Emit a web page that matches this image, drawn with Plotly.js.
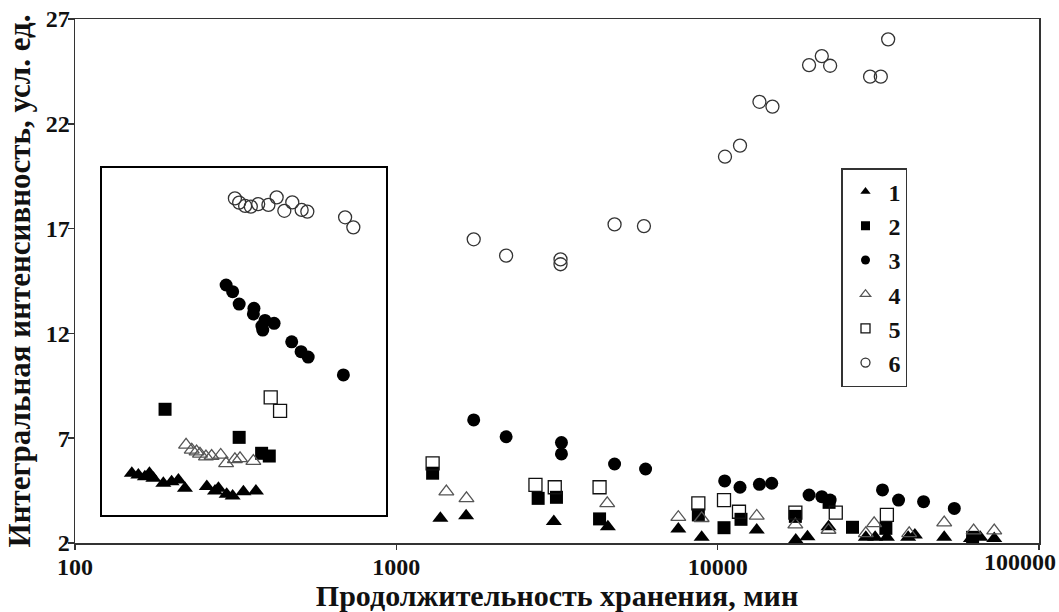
<!DOCTYPE html>
<html>
<head>
<meta charset="utf-8">
<script src="https://cdn.plot.ly/plotly-3.0.1.min.js"></script>
<style>html,body{margin:0;padding:0;background:#fff;}#chart{width:1059px;height:612px;}</style>
</head>
<body>
<div id="chart"></div>
<script>
// ---- main chart data (storage time, min; integral intensity, a.u.) ----
const s1x = [1371,1649,3091,4553,7543,8917,13230,17500,19030,22130,28910,30910,33620,39160,41090,50700,61400,65630,72560];
const s1y = [3.18,3.30,3.02,2.78,2.67,2.27,2.62,2.14,2.30,2.78,2.27,2.27,2.27,2.27,2.38,2.27,2.22,2.27,2.22];
const s2x = [1297,2763,3150,4290,8707,10464,11820,17450,22220,26280,33380,62140];
const s2y = [5.33,4.13,4.18,3.15,3.34,2.73,3.13,3.27,3.94,2.75,2.70,2.27];
const s3x = [1741,2196,3265,3265,4777,5966,10515,11736,13490,14730,19250,21090,22387,32580,36550,43730,54500];
const s3y = [7.87,7.07,6.79,6.25,5.77,5.53,4.96,4.66,4.80,4.85,4.29,4.21,4.05,4.53,4.05,3.97,3.65];
const s4x = [1431,1653,4532,7543,8917,13230,17450,22130,28910,30690,39450,50700,62600,72560];
const s4y = [4.45,4.13,3.89,3.23,3.18,3.29,2.88,2.62,2.46,2.94,2.46,2.97,2.59,2.59];
const s5x = [1297,2710,3112,4290,8707,10464,11650,17450,23310,33620];
const s5y = [5.80,4.77,4.66,4.66,3.89,4.05,3.49,3.45,3.45,3.34];
const s6x = [1741,2196,3243,3243,4777,5896,10539,11736,13490,14808,19250,21090,22387,29810,32190,33930];
const s6y = [16.49,15.71,15.53,15.30,17.20,17.12,20.43,20.96,23.05,22.82,24.80,25.23,24.77,24.25,24.25,26.03];

// ---- inset data (inset time units; intensity) ----
const i1x = [10.5,12.8,15.1,16.7,18.1,21.6,24.5,26.9,29.2,36.9,39.8,41.0,43.9,46.0,49.8,54.2];
const i1y = [5.33,5.24,5.16,5.33,5.09,4.85,4.92,5.01,4.61,4.69,4.48,4.61,4.32,4.24,4.45,4.48];
const i2x = [22.2,48.3,56.2,58.9];
const i2y = [8.38,7.04,6.28,6.15];
const i3x = [43.7,46.0,48.3,53.5,53.3,57.4,60.6,56.6,56.3,66.8,70.1,72.6,85.0];
const i3y = [14.31,13.99,13.40,13.20,12.93,12.62,12.48,12.16,12.35,11.60,11.13,10.87,10.02];
const i4x = [29.6,31.6,33.3,34.5,36.6,38.6,41.8,43.7,46.8,48.6,53.3];
const i4y = [6.68,6.44,6.36,6.25,6.12,6.15,6.20,5.80,5.99,6.04,5.91];
const i5x = [59.4,62.7];
const i5y = [8.95,8.30];
const i6x = [46.8,48.3,50.4,52.4,55.0,58.6,61.5,64.2,67.0,70.3,72.3,85.6,88.5];
const i6y = [18.44,18.24,18.08,18.05,18.17,18.13,18.49,17.85,18.25,17.89,17.81,17.54,17.06];

const seriesNames = ['1','2','3','4','5','6'];
const xTickVals = [100,1000,10000,100000];
const xTickText = ['100','1000','10000',''];
const xLastTickVal = [100000];
const xLastTickText = ['100000'];
const yTickVals = [2,7,12,17,22,27];

const styles = [
  {symbol:'triangle-up', color:'#000', size:14, line:{width:0}},
  {symbol:'square', color:'#000', size:13, line:{width:0}},
  {symbol:'circle', color:'#000', size:13, line:{width:0}},
  {symbol:'triangle-up-open', color:'#555', size:13, line:{width:1.3, color:'#555'}},
  {symbol:'square-open', color:'#111', size:13, line:{width:1.3, color:'#111'}},
  {symbol:'circle-open', color:'#333', size:13, line:{width:1.3, color:'#333'}}
];
const mainX = [s1x,s2x,s3x,s4x,s5x,s6x];
const mainY = [s1y,s2y,s3y,s4y,s5y,s6y];
const insX = [i1x,i2x,i3x,i4x,i5x,i6x];
const insY = [i1y,i2y,i3y,i4y,i5y,i6y];

const traces = [];
for (let k = 0; k < 6; k++) {
  traces.push({type:'scatter', mode:'markers', x:mainX[k], y:mainY[k], name:seriesNames[k],
    showlegend:false, cliponaxis:false, marker:styles[k], xaxis:'x', yaxis:'y', hoverinfo:'x+y'});
  traces.push({type:'scatter', mode:'markers', x:insX[k], y:insY[k], name:seriesNames[k],
    showlegend:false, cliponaxis:false, marker:styles[k], xaxis:'x2', yaxis:'y2', hoverinfo:'x+y'});
}
// legend entries (small symbols as in the original legend)
for (let k = 0; k < 6; k++) {
  const m = Object.assign({}, styles[k]);
  m.size = 9;
  traces.push({type:'scatter', mode:'markers', x:[null], y:[null], name:seriesNames[k],
    showlegend:true, marker:m, xaxis:'x3', yaxis:'y', hoverinfo:'skip'});
}

const serif = 'Liberation Serif, Times New Roman, serif';
const L = 75, R = 20, T = 19, B = 69, W = 1059, H = 612;
const pw = W - L - R, ph = H - T - B;
const inset = {left:102, right:386, top:168, bottom:515};
const eps = 1e-6;
const tickFont = {family:serif, size:24, weight:'bold', color:'#111'};

const layout = {
  width:W, height:H,
  margin:{l:L, r:R, t:T, b:B, pad:0},
  paper_bgcolor:'#fff', plot_bgcolor:'#fff',
  font:{family:serif, color:'#111'},
  showlegend:true,
  legend:{x:(841-L)/pw, y:(H-B-168)/ph, xanchor:'left', yanchor:'top',
    bgcolor:'#fff', bordercolor:'#333', borderwidth:1.5,
    font:{family:serif, size:24, weight:'bold', color:'#111'}, tracegroupgap:0, itemwidth:36},
  xaxis:{type:'log', range:[2-eps,5+eps], tickvals:xTickVals, ticktext:xTickText,
    showgrid:false, zeroline:false, showline:true, mirror:true, linecolor:'#333', linewidth:1.5,
    ticks:'outside', ticklen:5, tickwidth:1.5, tickcolor:'#333', ticklabelstandoff:-3,
    tickfont:tickFont,
    title:{text:'Продолжительность хранения, мин', standoff:11,
      font:{family:serif, size:30, weight:'bold', color:'#111'}}},
  xaxis3:{type:'log', range:[2-eps,5+eps], overlaying:'x', anchor:'y', side:'bottom',
    tickvals:xLastTickVal, ticktext:xLastTickText, ticks:'', showline:false,
    showgrid:false, zeroline:false, ticklabelshift:-19, ticklabelstandoff:2,
    ticklabeloverflow:'allow', tickfont:tickFont},
  yaxis:{range:[2,27], tickvals:yTickVals,
    showgrid:false, zeroline:false, showline:true, mirror:true, linecolor:'#333', linewidth:1.5,
    ticks:'outside', ticklen:6, tickwidth:1.5, tickcolor:'#333', ticklabelstandoff:-7,
    tickfont:tickFont,
    title:{text:'Интегральная интенсивность, усл. ед.', standoff:6,
      font:{family:serif, size:31, weight:'bold', color:'#111'}}},
  xaxis2:{domain:[(inset.left-L)/pw, (inset.right-L)/pw], range:[0,100], anchor:'y2',
    showgrid:false, zeroline:false, showline:true, mirror:true, linecolor:'#000', linewidth:2,
    ticks:'', showticklabels:false},
  yaxis2:{domain:[(H-B-inset.bottom)/ph, (H-B-inset.top)/ph],
    range:[2+(H-B-inset.bottom)*25/ph, 2+(H-B-inset.top)*25/ph], anchor:'x2',
    showgrid:false, zeroline:false, showline:true, mirror:true, linecolor:'#000', linewidth:2,
    ticks:'', showticklabels:false}
};

Plotly.newPlot('chart', traces, layout, {displayModeBar:false, staticPlot:true});
</script>
</body>
</html>
